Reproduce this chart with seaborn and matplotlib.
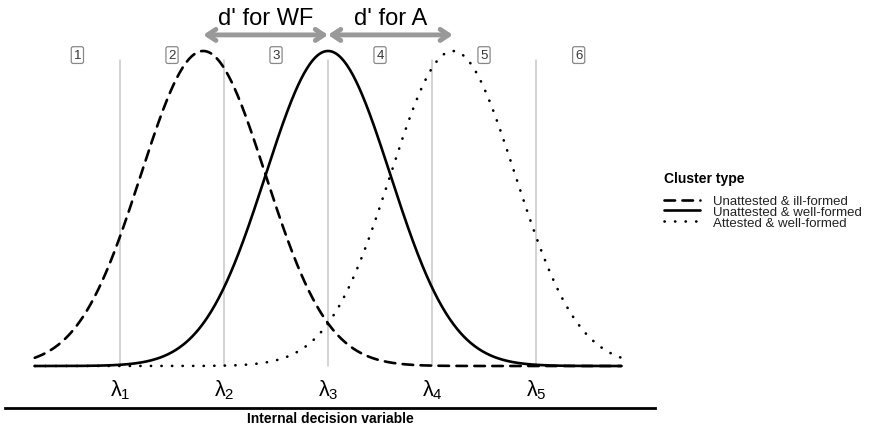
# Librerias
import numpy as np
import pandas as pd
import matplotlib
matplotlib.use("Agg")
import matplotlib.pyplot as plt
import seaborn as sns

# 0. Configuracion general
sns.set_style("white")
plt.rcParams["font.family"] = ["Liberation Sans", "DejaVu Sans"]

# 1. Datos
cluster_types = ["Unattested & ill-formed", "Unattested & well-formed", "Attested & well-formed"]
means = [-1.2, 0.0, 1.2]
sds = [0.6, 0.6, 0.6]
x_range = [-2.82, 2.82]
thresholds = [-2.0, -1.0, 0.0, 1.0, 2.0]
threshold_labels = [r"$\mathregular{\lambda_1}$", r"$\mathregular{\lambda_2}$", r"$\mathregular{\lambda_3}$",
                    r"$\mathregular{\lambda_4}$", r"$\mathregular{\lambda_5}$"]
response_labels = ["1", "2", "3", "4", "5", "6"]
dprime_labels = ["d' for WF", "d' for A"]

# curvas normales (escaladas a pico 1)
xs = np.linspace(x_range[0], x_range[1], 600)
rows = []
for name, m, s in zip(cluster_types, means, sds):
    ys = np.exp(-0.5 * ((xs - m) / s) ** 2)
    rows.append(pd.DataFrame({"x": xs, "y": ys, "Cluster type": name}))
df = pd.concat(rows, ignore_index=True)

# 2. Figura
fig = plt.figure(figsize=(8.7, 4.27), dpi=100)
ax = fig.add_axes([5 / 870, 18 / 427, 650 / 870, 409 / 427])

# lineas de umbral
for t in thresholds:
    ax.plot([t, t], [0, 0.971], color="#c8c8c8", lw=1.1, zorder=1)

dashes = {cluster_types[0]: (4, 2.8), cluster_types[1]: "", cluster_types[2]: (0.1, 3.9)}
sns.lineplot(data=df, x="x", y="y", style="Cluster type", style_order=cluster_types,
             dashes=dashes, color="black", linewidth=1.9, ax=ax, zorder=3)
for ln in ax.lines:
    ln.set_dash_capstyle("round")

# etiquetas de umbral
for t, lab in zip(thresholds, threshold_labels):
    ax.text(t, -0.073, lab, ha="center", va="center", fontsize=15.5, color="black")

# cajas de respuesta
box_x = [(x_range[0] + thresholds[0]) / 2] + \
        [(a + b) / 2 for a, b in zip(thresholds[:-1], thresholds[1:])] + \
        [(thresholds[-1] + x_range[1]) / 2]
for bx, lab in zip(box_x, response_labels):
    ax.text(bx, 0.987, lab, ha="center", va="center", fontsize=9.5, color="#333333",
            bbox=dict(boxstyle="round,pad=0.18,rounding_size=0.15", fc="white", ec="#888888", lw=0.9))

# flechas d'
arrow_y = 1.051
for a, b, lab in [(means[0], means[1], dprime_labels[0]), (means[1], means[2], dprime_labels[1])]:
    ax.annotate("", xy=(a, arrow_y), xytext=(b, arrow_y),
                arrowprops=dict(arrowstyle="<->,head_length=0.6,head_width=0.4",
                                color="#999999", lw=3.5, shrinkA=0, shrinkB=0))
    ax.text((a + b) / 2, 1.105, lab, ha="center", va="center", fontsize=17, color="black")

ax.set_xlim(-3.106, 3.144)
ax.set_ylim(-0.1333, 1.165)
ax.set_xticks([])
ax.set_yticks([])
for side in ["top", "right", "left"]:
    ax.spines[side].set_visible(False)
ax.spines["bottom"].set_linewidth(2)
ax.spines["bottom"].set_color("black")
ax.set_xlabel("Internal decision variable", fontsize=10, fontweight="bold", labelpad=2, color="black")
ax.set_ylabel("")

# leyenda (titulo aparte para controlar el espacio)
sns.move_legend(ax, "upper left", bbox_to_anchor=(664 / 870, 1 - 196 / 427),
                bbox_transform=fig.transFigure, frameon=False, title=None,
                fontsize=9.5, borderpad=0, borderaxespad=0,
                labelspacing=-0.12, handlelength=2.7, handletextpad=1.0)
leg = ax.get_legend()
for h in leg.legend_handles:
    h.set_linewidth(1.9)
    h.set_dash_capstyle("round")
for t in leg.get_texts():
    t.set_color("#222222")
fig.text(664 / 870, 1 - 179 / 427, "Cluster type", ha="left", va="center",
         fontsize=10, fontweight="bold", color="black")

fig.savefig("out.png", dpi=100)
